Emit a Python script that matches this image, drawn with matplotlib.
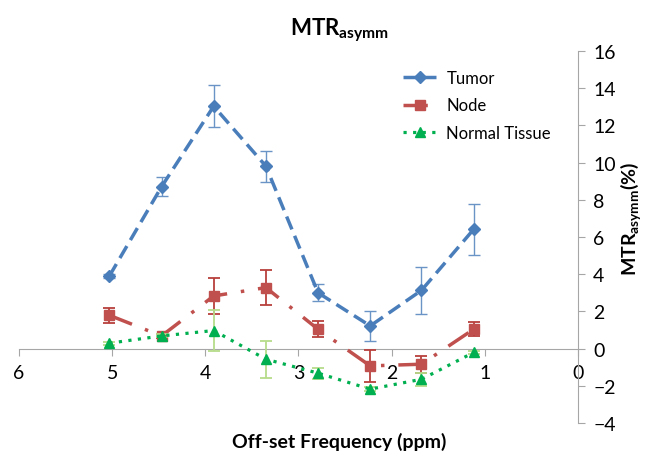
import matplotlib
matplotlib.use('Agg')

import matplotlib.pyplot as plt
from matplotlib.lines import Line2D
import numpy as np

plt.rcParams['font.family'] = ['Lato', 'DejaVu Sans']

# offset frequencies (ppm)
freqs = [5.03, 4.47, 3.91, 3.35, 2.79, 2.23, 1.68, 1.12]

tumor = [3.9, 8.7, 13.03, 9.81, 3.0, 1.22, 3.13, 6.41]
tumorErr = [0.12, 0.5, 1.13, 0.83, 0.45, 0.8, 1.25, 1.37]

node = [1.79, 0.68, 2.83, 3.28, 1.04, -0.93, -0.84, 1.04]
nodeErr = [0.4, 0.1, 0.95, 0.93, 0.44, 0.87, 0.45, 0.39]

normal = [0.29, 0.68, 0.97, -0.57, -1.32, -2.18, -1.65, -0.21]
normalErr = [0.08, 0.08, 1.1, 1.0, 0.3, 0.1, 0.35, 0.08]

fig = plt.figure(figsize=(6.46, 4.56), dpi=100)
ax = fig.add_axes([0.0294, 0.0702, 0.8653, 0.8158])

styles = {
    'Tumor': dict(color='#4A7EBB', linestyle=(0, (4, 2)), linewidth=2.5, marker='D', markersize=6),
    'Node': dict(color='#C0504D', linestyle=(0, (7, 4, 1, 4)), linewidth=2.5, marker='s', markersize=7.5),
    'Normal Tissue': dict(color='#00B050', linestyle=(0, (1, 2)), linewidth=2.3, marker='^', markersize=7.5),
}

ax.errorbar(freqs, tumor, yerr=tumorErr, ecolor='#6A93C6', elinewidth=1, capsize=4,
            capthick=1, zorder=4, **styles['Tumor'])
ax.errorbar(freqs, node, yerr=nodeErr, ecolor='#B8403D', elinewidth=1.3, capsize=4,
            capthick=1.3, zorder=3, **styles['Node'])
ax.errorbar(freqs, normal, yerr=normalErr, ecolor='#B5DC8A', elinewidth=1.3, capsize=4,
            capthick=1.3, zorder=5, **styles['Normal Tissue'])

ax.set_xlim(6, 0)
ax.set_ylim(-4, 16)
ax.set_xticks(np.arange(6, -1, -1))
ax.set_yticks(np.arange(-4, 17, 2))

for s in ['left', 'top']:
    ax.spines[s].set_visible(False)
ax.spines['bottom'].set_position(('data', 0))
ax.spines['bottom'].set_color('#A6A6A6')
ax.spines['right'].set_color('#A6A6A6')
ax.yaxis.tick_right()
ax.tick_params(axis='y', direction='out', length=5, color='#A6A6A6', labelsize=14, pad=6)
ax.tick_params(axis='x', direction='out', length=5, color='#A6A6A6', labelsize=14, pad=6)

fig.text(0.525, 0.935, 'MTR$_{\\mathregular{asymm}}$', fontsize=16, fontweight='bold',
         ha='center', va='center')
fig.text(0.977, 0.52, 'MTR$_{\\mathregular{asymm}}$(%)', rotation=90, fontsize=14,
         fontweight='bold', ha='center', va='center')
fig.text(0.525, 0.03, 'Off-set Frequency (ppm)', fontsize=14, fontweight='bold',
         ha='center', va='center')

handles = [Line2D([], [], **styles[k]) for k in styles]
ax.legend(handles, list(styles), loc='upper left', bbox_to_anchor=(0.66, 0.99),
          frameon=False, fontsize=12, handlelength=2.0, labelspacing=0.7, handletextpad=0.6)

fig.savefig('out.png', dpi=100)
